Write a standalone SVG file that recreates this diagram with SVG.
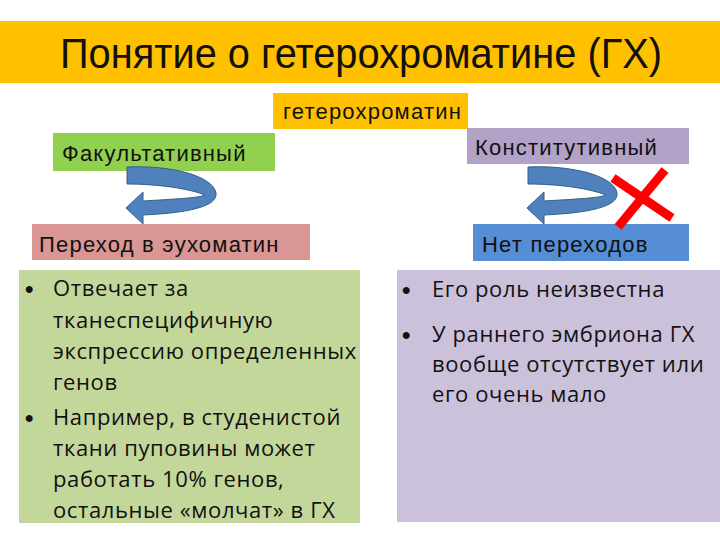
<svg xmlns="http://www.w3.org/2000/svg" width="720" height="540" viewBox="0 0 720 540">
<style>
.lbl{font-family:"Liberation Sans",Arial,sans-serif;font-size:22px;letter-spacing:1.2px;fill:#111}
.bt{font-family:"Open Sans","Liberation Sans",sans-serif;font-size:22px;letter-spacing:0.6px;fill:#111}
.bul{font-family:"Liberation Sans",Arial,sans-serif;font-size:24px;font-weight:bold;fill:#111}
.arrow{fill:#4F81BD;stroke:#385D8A;stroke-width:1}
</style>
<defs>
<path id="uarrow" d="M127,167 C172,165 213,176 216,193 C218,207 186,213 143,215 L143,224 L126,208 L143,192 L143,201 C175,199 199,198 205,195 C190,189 160,184 127,184 Z"/>
</defs>
<rect width="720" height="540" fill="#fff"/>
<g id="title">
<rect x="0" y="21" width="720" height="62" fill="#FFC000"/>
<text x="60" y="68" font-family="'Liberation Sans',Arial,sans-serif" font-size="43" fill="#111" textLength="602" lengthAdjust="spacingAndGlyphs">Понятие о гетерохроматине (ГХ)</text>
</g>
<g id="heterochromatin">
<rect x="273" y="93" width="195" height="36" fill="#FFC000"/>
<text class="lbl" x="283" y="119">гетерохроматин</text>
</g>
<g id="facultative">
<rect x="53" y="133" width="222" height="38" fill="#92D050"/>
<text class="lbl" x="62" y="161">Факультативный</text>
</g>
<g id="constitutive">
<rect x="467" y="128" width="222" height="36" fill="#B3A2C7"/>
<text class="lbl" x="475" y="155">Конститутивный</text>
</g>
<g id="euchromatin">
<rect x="32" y="224" width="278" height="36" fill="#D99694"/>
<text class="lbl" x="39" y="252">Переход в эухоматин</text>
</g>
<g id="no-transitions">
<rect x="473" y="224" width="216" height="37" fill="#558ED5"/>
<text class="lbl" x="482" y="252">Нет переходов</text>
</g>
<g id="connectors">
<use href="#uarrow" class="arrow"/>
<use href="#uarrow" class="arrow" transform="translate(401,0)"/>
<g stroke="#FF0000" stroke-width="9" stroke-linecap="butt">
<line x1="613" y1="178" x2="672" y2="218"/>
<line x1="665" y1="170" x2="618" y2="227"/>
</g>
</g>
<g id="left-panel">
<rect x="19" y="270" width="341" height="253" fill="#C4D79B"/>
<text class="bul" x="25" y="297">•</text>
<text class="bt" x="53" y="296">Отвечает за</text>
<text class="bt" x="53" y="328">тканеспецифичную</text>
<text class="bt" x="53" y="359">экспрессию определенных</text>
<text class="bt" x="53" y="390">генов</text>
<text class="bul" x="25" y="426">•</text>
<text class="bt" x="53" y="425">Например, в студенистой</text>
<text class="bt" x="53" y="456">ткани пуповины может</text>
<text class="bt" x="53" y="487">работать 10% генов,</text>
<text class="bt" x="53" y="518">остальные «молчат» в ГХ</text>
</g>
<g id="right-panel">
<rect x="397" y="270" width="323" height="252" fill="#CCC1DA"/>
<text class="bul" x="402" y="298">•</text>
<text class="bt" x="432" y="297">Его роль неизвестна</text>
<text class="bul" x="402" y="343">•</text>
<text class="bt" x="432" y="342">У раннего эмбриона ГХ</text>
<text class="bt" x="432" y="372">вообще отсутствует или</text>
<text class="bt" x="432" y="402">его очень мало</text>
</g>
</svg>
